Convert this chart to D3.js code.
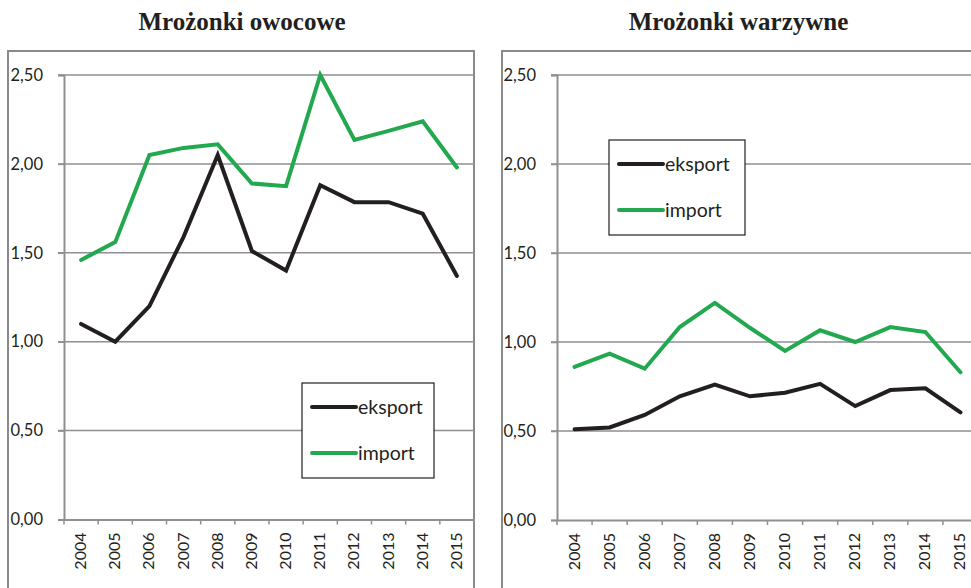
<!DOCTYPE html>
<html>
<head>
<meta charset="utf-8">
<script src="https://cdn.jsdelivr.net/npm/d3@7"></script>
<style>
html,body{margin:0;padding:0;background:#fff;}
svg{display:block;}
</style>
</head>
<body>
<svg id="chart" width="971" height="588"></svg>
<script>
const years = ["2004","2005","2006","2007","2008","2009","2010","2011","2012","2013","2014","2015"];
const yTicks = [0, 0.5, 1.0, 1.5, 2.0, 2.5];
const seriesNames = ["eksport","import"];

const titleFruit = "Mrożonki owocowe";
const fruitExport = [1.10, 1.00, 1.20, 1.59, 2.05, 1.51, 1.40, 1.88, 1.785, 1.785, 1.72, 1.37];
const fruitImport = [1.46, 1.56, 2.05, 2.09, 2.11, 1.89, 1.875, 2.50, 2.135, 2.186, 2.24, 1.98];

const titleVeg = "Mrożonki warzywne";
const vegExport = [0.51, 0.52, 0.59, 0.695, 0.76, 0.695, 0.715, 0.765, 0.64, 0.73, 0.74, 0.605];
const vegImport = [0.86, 0.935, 0.85, 1.084, 1.22, 1.08, 0.95, 1.066, 1.00, 1.084, 1.056, 0.83];

const colors = {eksport: "#231f20", import: "#22a94f"};
const gridColor = "#8f8f94";
const font = "Lato, 'Open Sans', sans-serif";

const svg = d3.select("#chart");

function panel(cfg) {
  const g = svg.append("g");
  // frame
  g.append("rect")
    .attr("x", cfg.box[0]).attr("y", cfg.box[1])
    .attr("width", cfg.box[2]).attr("height", cfg.box[3])
    .attr("fill", "none").attr("stroke", "#8a8a8d").attr("stroke-width", 2);
  // title
  g.append("text")
    .attr("x", cfg.titleX).attr("y", 30)
    .attr("text-anchor", "middle")
    .attr("font-family", "'Liberation Serif', 'Times New Roman', serif")
    .attr("font-weight", "bold").attr("font-size", 25)
    .attr("fill", "#231f20")
    .text(cfg.title);

  const x = d3.scaleBand().domain(years).range([cfg.x0, cfg.x1]);
  const y = d3.scaleLinear().domain([0, 2.5]).range([cfg.y0, cfg.y1]);

  // gridlines
  g.append("g").selectAll("line").data(yTicks.filter(d => d > 0)).join("line")
    .attr("x1", cfg.x0 - 6).attr("x2", cfg.x1)
    .attr("y1", d => y(d)).attr("y2", d => y(d))
    .attr("stroke", gridColor).attr("stroke-width", 1.5);

  // y axis
  const yAxis = d3.axisLeft(y).tickValues(yTicks).tickSize(6).tickPadding(15)
    .tickFormat(d => d3.format(".2f")(d).replace(".", ","));
  const ya = g.append("g").attr("transform", `translate(${cfg.x0},0)`).call(yAxis);
  ya.select(".domain").attr("stroke", gridColor).attr("stroke-width", 2);
  ya.selectAll(".tick line").attr("stroke", gridColor).attr("stroke-width", 1.5);
  ya.selectAll("text").attr("font-family", font).attr("font-size", 16.5).attr("fill", "#231f20");

  // x axis
  const xAxis = d3.axisBottom(x).tickSizeOuter(0).tickSize(0).tickPadding(0);
  const xa = g.append("g").attr("transform", `translate(0,${cfg.y0})`).call(xAxis);
  xa.select(".domain").attr("stroke", gridColor).attr("stroke-width", 2);
  xa.selectAll(".tick text")
    .attr("font-family", font).attr("font-size", 16).attr("fill", "#231f20")
    .attr("text-anchor", "end").attr("dy", null)
    .attr("transform", "translate(5,13) rotate(-90)");
  // category boundary ticks
  const bounds = years.map(d => x(d)).concat([x(years[years.length - 1]) + x.bandwidth()]);
  xa.append("g").selectAll("line").data(bounds).join("line")
    .attr("x1", d => d).attr("x2", d => d).attr("y1", 0).attr("y2", 5)
    .attr("stroke", gridColor).attr("stroke-width", 1.5);

  // lines
  const line = d3.line().x((d, i) => x(years[i]) + x.bandwidth() / 2).y(d => y(d));
  const data = {eksport: cfg.exp, import: cfg.imp};
  ["import", "eksport"].forEach(k => {
    g.append("path").datum(data[k])
      .attr("d", line).attr("fill", "none")
      .attr("stroke", colors[k]).attr("stroke-width", 4)
      .attr("stroke-linejoin", "miter").attr("stroke-linecap", "round");
  });

  // legend
  const L = cfg.legend;
  const lg = g.append("g");
  lg.append("rect").attr("x", L.x).attr("y", L.y).attr("width", L.w).attr("height", L.h)
    .attr("fill", "#fff").attr("stroke", "#231f20").attr("stroke-width", 1.2);
  seriesNames.forEach((k, i) => {
    const yy = L.y + 24 + i * 46;
    lg.append("line").attr("x1", L.x + 10).attr("x2", L.x + 54)
      .attr("y1", yy).attr("y2", yy)
      .attr("stroke", colors[k]).attr("stroke-width", 4).attr("stroke-linecap", "round");
    lg.append("text").attr("x", L.x + 56).attr("y", yy + 7)
      .attr("font-family", font).attr("font-size", 19.5).attr("fill", "#231f20")
      .text(k);
  });
}

panel({
  box: [8, 51, 466, 560], title: titleFruit, titleX: 242,
  x0: 64, x1: 474, y0: 519.5, y1: 75,
  exp: fruitExport, imp: fruitImport,
  legend: {x: 302, y: 383, w: 132, h: 95}
});
panel({
  box: [502, 51, 500, 560], title: titleVeg, titleX: 738.5,
  x0: 557, x1: 978, y0: 520, y1: 75,
  exp: vegExport, imp: vegImport,
  legend: {x: 609, y: 140, w: 136, h: 95}
});
</script>
</body>
</html>
